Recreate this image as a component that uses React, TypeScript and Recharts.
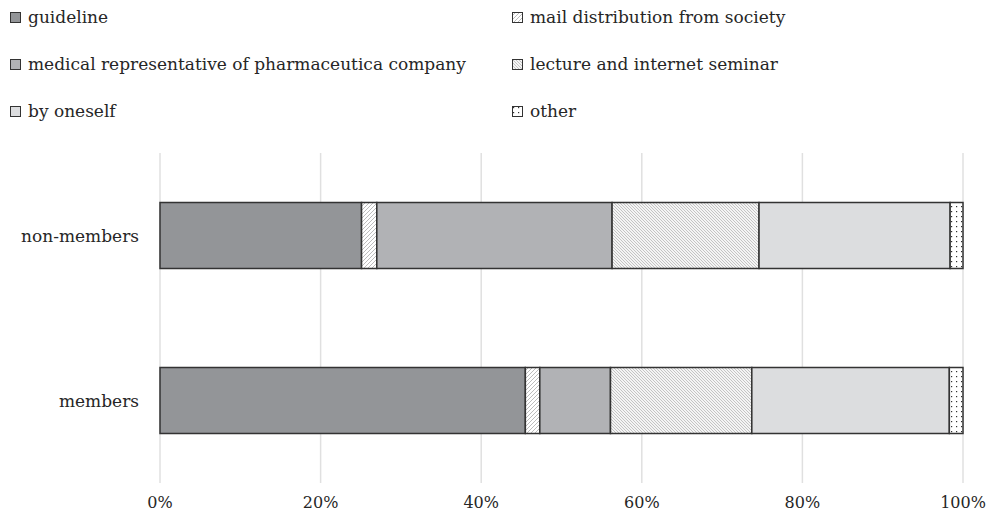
import { Bar, BarChart, CartesianGrid, XAxis, YAxis } from "recharts";

const groups = ["non-members", "members"];
const guideline = [25.1, 45.5];
const mailDistribution = [1.9, 1.8];
const medicalRep = [29.3, 8.8];
const lecture = [18.3, 17.6];
const byOneself = [23.8, 24.6];
const other = [1.6, 1.7];
const xTicks = [0, 20, 40, 60, 80, 100];

const SERIES = [
  { key: "guideline", name: "guideline", fill: "#939598", values: guideline },
  { key: "mail", name: "mail distribution from society", fill: "url(#hatchLight)", values: mailDistribution },
  { key: "medical", name: "medical representative of pharmaceutica company", fill: "#b1b2b5", values: medicalRep },
  { key: "lecture", name: "lecture and internet seminar", fill: "url(#hatchDense)", values: lecture },
  { key: "oneself", name: "by oneself", fill: "#dcdddf", values: byOneself },
  { key: "other", name: "other", fill: "url(#dots)", values: other }
];

const data = groups.map((group, i) => {
  const row: Record<string, string | number> = { group };
  SERIES.forEach((s) => {
    row[s.key] = s.values[i];
  });
  return row;
});

const FONT = "'DejaVu Serif', serif";

function Patterns() {
  return (
    <defs>
      <pattern id="hatchLight" width="4" height="4" patternUnits="userSpaceOnUse">
        <rect width="4" height="4" fill="#ffffff" />
        <path d="M-1,1 l2,-2 M0,4 l4,-4 M3,5 l2,-2" stroke="#b4b4b4" strokeWidth="0.9" />
      </pattern>
      <pattern id="hatchDense" width="3" height="3" patternUnits="userSpaceOnUse">
        <rect width="3" height="3" fill="#f4f4f4" />
        <path d="M-1,-1 l5,5 M-1,2 l2,2 M2,-1 l2,2" stroke="#b8b8b8" strokeWidth="0.8" />
      </pattern>
      <pattern id="dots" width="5" height="5" patternUnits="userSpaceOnUse">
        <rect width="5" height="5" fill="#ffffff" />
        <rect x="1" y="1" width="1.2" height="1.2" fill="#333" />
      </pattern>
    </defs>
  );
}

function LegendIcon({ fill }: { fill: string }) {
  return (
    <svg width={11} height={11} style={{ display: "block" }}>
      <Patterns />
      <rect x={0.5} y={0.5} width={10} height={10} fill={fill} stroke="#333" strokeWidth={1} />
    </svg>
  );
}

export default function App() {
  return (
    <div style={{ position: "absolute", left: 0, top: 0, width: 992, height: 524, background: "#fff", fontFamily: FONT }}>
      {SERIES.map((s, i) => {
        const col = i % 2;
        const row = Math.floor(i / 2);
        return (
          <div
            key={s.key}
            style={{
              position: "absolute",
              left: col === 0 ? 10 : 512,
              top: 17 + row * 47 - 10,
              height: 20,
              display: "flex",
              alignItems: "center",
              gap: 7,
              fontSize: 17,
              color: "#262626",
              whiteSpace: "nowrap"
            }}
          >
            <LegendIcon fill={s.fill} />
            <span>{s.name}</span>
          </div>
        );
      })}
      <BarChart
        width={992}
        height={524}
        data={data}
        layout="vertical"
        margin={{ top: 153, right: 29, bottom: 0, left: 0 }}
        barCategoryGap="30%"
        style={{ position: "absolute", left: 0, top: 0 }}
      >
        <Patterns />
        <CartesianGrid horizontal={false} stroke="#e0e0e0" strokeWidth={1.5} />
        <XAxis
          type="number"
          domain={[0, 100]}
          ticks={xTicks}
          tickFormatter={(v) => `${v}%`}
          axisLine={false}
          tickLine={false}
          tickSize={0}
          tickMargin={14}
          height={41}
          tick={{ fill: "#262626", fontSize: 16, fontFamily: FONT }}
        />
        <YAxis
          type="category"
          dataKey="group"
          width={160}
          axisLine={false}
          tickLine={false}
          tickSize={0}
          tickMargin={21}
          tick={{ fill: "#262626", fontSize: 17, fontFamily: FONT }}
        />
        {SERIES.map((s) => (
          <Bar
            key={s.key}
            dataKey={s.key}
            name={s.name}
            stackId="a"
            fill={s.fill}
            stroke="#333"
            strokeWidth={1.5}
            isAnimationActive={false}
          />
        ))}
      </BarChart>
    </div>
  );
}
